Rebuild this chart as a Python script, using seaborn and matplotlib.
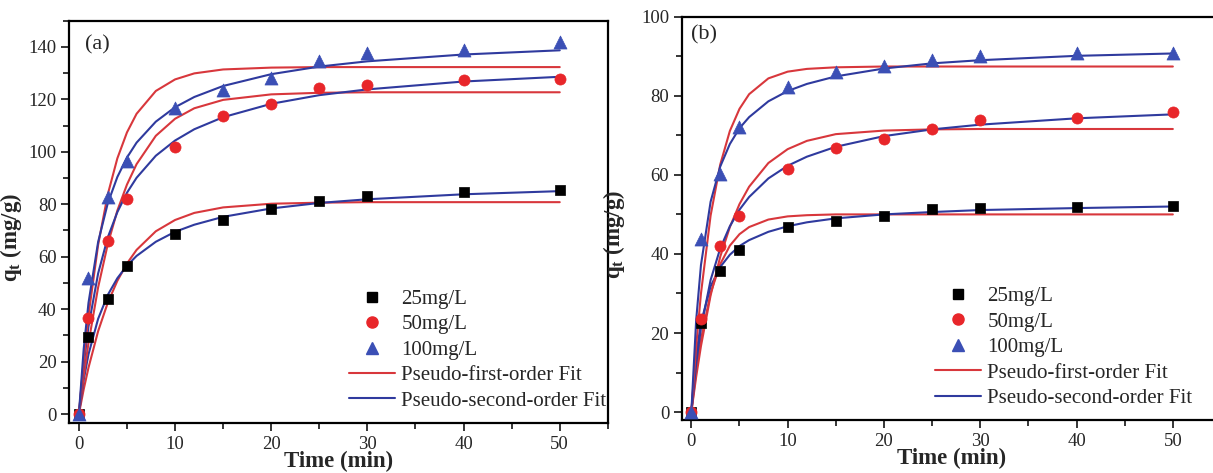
import numpy as np
import pandas as pd
import seaborn as sns
import matplotlib.pyplot as plt
from matplotlib.lines import Line2D
from matplotlib.ticker import MultipleLocator

sns.set_style('ticks')
plt.rcParams['font.family'] = ['Liberation Serif', 'DejaVu Serif']
plt.rcParams['mathtext.fontset'] = 'custom'
plt.rcParams['mathtext.rm'] = 'Liberation Serif'
plt.rcParams['mathtext.bf'] = 'Liberation Serif:bold'

# 实验点
concs = ['25mg/L', '50mg/L', '100mg/L']
time_pts = [0, 1, 3, 5, 10, 15, 20, 25, 30, 40, 50]
a_25 = [0, 29.5, 44.0, 56.5, 68.5, 74.0, 78.1, 81.4, 83.0, 84.6, 85.3]
a_50 = [0, 36.7, 65.9, 81.9, 101.7, 113.8, 118.1, 124.2, 125.3, 127.5, 127.6]
a_100 = [0, 51.7, 82.7, 96.4, 116.6, 123.6, 128.1, 134.7, 137.6, 138.9, 141.7]
b_25 = [0, 22.5, 35.8, 41.0, 46.8, 48.3, 49.6, 51.3, 51.5, 51.8, 52.2]
b_50 = [0, 23.5, 42.0, 49.6, 61.4, 66.7, 69.0, 71.6, 73.9, 74.5, 76.0]
b_100 = [0, 43.7, 60.3, 72.1, 82.2, 85.9, 87.6, 89.1, 90.1, 90.8, 90.8]

# 拟合曲线
fit_t = [0, 0.5, 1, 2, 3, 4, 5, 6, 8, 10, 12, 15, 20, 25, 30, 40, 50]
a_pfo_25 = [0, 9.4, 17.7, 31.6, 42.4, 50.8, 57.4, 62.6, 69.7, 74.0, 76.7, 78.8, 80.2, 80.6, 80.8, 80.8, 80.8]
a_pfo_50 = [0, 14.4, 27.1, 48.3, 64.7, 77.6, 87.5, 95.3, 106.1, 112.6, 116.6, 119.8, 121.9, 122.5, 122.7, 122.7, 122.7]
a_pfo_100 = [0, 20.3, 37.6, 64.5, 83.7, 97.5, 107.4, 114.5, 123.2, 127.6, 129.9, 131.4, 132.1, 132.3, 132.3, 132.3, 132.3]
a_pso_25 = [0, 13.0, 22.8, 36.3, 45.4, 51.8, 56.6, 60.3, 65.7, 69.5, 72.2, 75.2, 78.4, 80.5, 81.9, 83.8, 85.0]
a_pso_50 = [0, 19.0, 33.4, 53.6, 67.3, 77.0, 84.4, 90.1, 98.5, 104.3, 108.6, 113.2, 118.3, 121.6, 123.8, 126.8, 128.6]
a_pso_100 = [0, 24.8, 42.4, 65.6, 80.3, 90.4, 97.8, 103.5, 111.5, 117.0, 120.9, 125.1, 129.6, 132.5, 134.5, 137.1, 138.7]
b_pfo_25 = [0, 10.3, 18.4, 30.1, 37.4, 42.1, 45.0, 46.8, 48.7, 49.5, 49.8, 50.0, 50.0, 50.0, 50.0, 50.0, 50.0]
b_pfo_50 = [0, 8.9, 16.7, 29.5, 39.3, 46.8, 52.6, 57.0, 63.0, 66.5, 68.6, 70.3, 71.2, 71.5, 71.6, 71.6, 71.6]
b_pfo_100 = [0, 16.6, 30.0, 49.7, 62.6, 71.1, 76.7, 80.4, 84.4, 86.1, 86.8, 87.2, 87.4, 87.4, 87.4, 87.4, 87.4]
b_pso_25 = [0, 14.4, 22.6, 31.8, 36.7, 39.8, 42.0, 43.5, 45.6, 47.0, 48.0, 49.0, 50.0, 50.6, 51.1, 51.6, 52.0]
b_pso_50 = [0, 12.2, 21.2, 33.4, 41.4, 47.0, 51.2, 54.4, 59.1, 62.3, 64.6, 67.1, 69.8, 71.5, 72.7, 74.3, 75.3]
b_pso_100 = [0, 23.2, 37.2, 53.2, 62.1, 67.8, 71.8, 74.6, 78.6, 81.2, 83.0, 84.9, 86.9, 88.2, 89.0, 90.1, 90.7]

pt_colors = ['black', '#e8262a', '#3b4fb5']
pt_markers = ['s', 'o', '^']
pt_sizes = [48, 64, 88]
red_line = '#d8373c'
blue_line = '#2f3a9e'


def draw(ax, points, pfo, pso, ylim, tag, tag_xy, leg_x, ylab_x):
    for q1, q2 in zip(pfo, pso):
        sns.lineplot(x=fit_t, y=q1, color=red_line, lw=1.5, sort=False,
                     estimator=None, ax=ax, zorder=2)
        sns.lineplot(x=fit_t, y=q2, color=blue_line, lw=1.5, sort=False,
                     estimator=None, ax=ax, zorder=2)
    for q, c, m, s in zip(points, pt_colors, pt_markers, pt_sizes):
        df = pd.DataFrame({'t': time_pts, 'q': q})
        sns.scatterplot(data=df, x='t', y='q', color=c, marker=m, s=s,
                        edgecolor=c, linewidth=0.5, ax=ax, zorder=3, legend=False)

    ax.set_xlim(-1, 55)
    ax.set_ylim(*ylim)
    ax.xaxis.set_major_locator(MultipleLocator(10))
    ax.xaxis.set_minor_locator(MultipleLocator(5))
    ax.yaxis.set_major_locator(MultipleLocator(20))
    ax.yaxis.set_minor_locator(MultipleLocator(10))
    ax.tick_params(which='major', length=6, width=1.3, labelsize=13.5)
    ax.tick_params(which='minor', length=4, width=1.3)
    ax.tick_params(axis='x', which='major', pad=3.5)
    ax.tick_params(axis='y', which='major', pad=3)
    ax.tick_params(top=False, right=False)
    for sp in ax.spines.values():
        sp.set_linewidth(1.6)
        sp.set_color('black')
    ax.set_xlabel('Time (min)', fontsize=16.5, fontweight='bold', labelpad=-1.5)
    ax.set_ylabel(r'q$_\mathbf{t}$ (mg/g)', fontsize=16.5, fontweight='bold')
    ax.yaxis.set_label_coords(ylab_x, 0.46)
    ax.text(tag_xy[0], tag_xy[1], tag, transform=ax.transAxes, fontsize=16,
            ha='left', va='center')

    handles = [
        Line2D([], [], marker='s', color='black', ls='none', ms=7),
        Line2D([], [], marker='o', color=pt_colors[1], ls='none', ms=8),
        Line2D([], [], marker='^', color=pt_colors[2], ls='none', ms=9),
        Line2D([], [], color=red_line, lw=1.5),
        Line2D([], [], color=blue_line, lw=1.5),
    ]
    labels = concs + ['Pseudo-first-order Fit', 'Pseudo-second-order Fit']
    ax.legend(handles, labels, loc='lower left', bbox_to_anchor=(leg_x, 0.03),
              frameon=False, fontsize=15, handlelength=2.2, handletextpad=0.3,
              labelspacing=0.28, borderpad=0, borderaxespad=0)


fig = plt.figure(figsize=(12.13, 4.73), dpi=100)
ax1 = fig.add_axes([0.0571, 0.1063, 0.444, 0.850])
ax2 = fig.add_axes([0.562, 0.112, 0.4446, 0.8527])

draw(ax1, [a_25, a_50, a_100], [a_pfo_25, a_pfo_50, a_pfo_100],
     [a_pso_25, a_pso_50, a_pso_100], (-3.3, 150), '(a)', (0.03, 0.94), 0.52, -0.084)
draw(ax2, [b_25, b_50, b_100], [b_pfo_25, b_pfo_50, b_pfo_100],
     [b_pso_25, b_pso_50, b_pso_100], (-2, 100), '(b)', (0.018, 0.955), 0.47, -0.101)

fig.savefig('out.png', dpi=100)
